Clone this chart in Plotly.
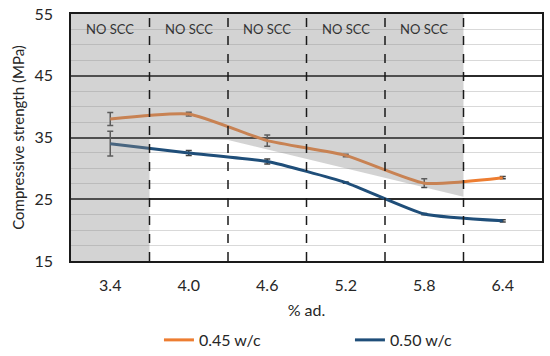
import plotly.graph_objects as go

categories = ["3.4", "4.0", "4.6", "5.2", "5.8", "6.4"]
w045 = [38.0, 38.8, 34.5, 32.1, 27.6, 28.5]
w045_err = [1.05, 0.3, 0.9, 0.2, 0.7, 0.2]
w050 = [34.0, 32.5, 31.1, 27.7, 22.6, 21.5]
w050_err = [2.0, 0.4, 0.4, 0.1, 0.1, 0.2]
zone_labels = ["NO SCC", "NO SCC", "NO SCC", "NO SCC", "NO SCC"]
# outline of the "NO SCC" shaded zone (category index, strength)
zone_x = [-0.5, 4.5, 4.5, 1.5, 0.5, 0.5, -0.5]
zone_y = [55, 55, 25.4, 34.6, 34.8, 15, 15]

xs = list(range(len(categories)))
FONT = "Lato, Open Sans, sans-serif"

fig = go.Figure()
fig.add_trace(go.Scatter(
    x=xs, y=w045, name="0.45 w/c", mode="lines",
    line=dict(color="#ED7D31", width=3, shape="spline", smoothing=0.5),
    error_y=dict(type="data", array=w045_err, color="#404040", thickness=1.5, width=3),
))
fig.add_trace(go.Scatter(
    x=xs, y=w050, name="0.50 w/c", mode="lines",
    line=dict(color="#1F4E79", width=3, shape="spline", smoothing=0.5),
    error_y=dict(type="data", array=w050_err, color="#404040", thickness=1.5, width=3),
))
fig.add_trace(go.Scatter(
    x=zone_x, y=zone_y, mode="lines", fill="toself",
    fillcolor="rgba(140,140,140,0.38)", line=dict(width=0),
    showlegend=False, hoverinfo="skip",
))

for b in [0.5, 1.5, 2.5, 3.5, 4.5]:
    fig.add_shape(type="line", x0=b, x1=b, y0=15, y1=55, xref="x", yref="y",
                  line=dict(color="#1a1a1a", width=1.5, dash="dash"), layer="above")

for i, t in enumerate(zone_labels):
    fig.add_annotation(x=i, y=52.6, text=t, showarrow=False,
                       font=dict(family=FONT, size=13, color="#333333"))

fig.update_layout(
    width=550, height=356,
    margin=dict(l=71, r=8, t=14, b=95, autoexpand=False),
    paper_bgcolor="white", plot_bgcolor="white",
    font=dict(family=FONT, size=15, color="#262626"),
    showlegend=True,
    legend=dict(orientation="h", x=0.289, xref="container", xanchor="left",
                y=0.045, yref="container", yanchor="middle",
                entrywidth=146, entrywidthmode="pixels",
                font=dict(family=FONT, size=16, color="#262626"),
                itemwidth=30, tracegroupgap=0),
)
fig.update_xaxes(
    range=[-0.5, 5.5], tickvals=xs, ticktext=categories,
    showgrid=False, zeroline=False, automargin=False,
    showline=True, linecolor="#1a1a1a", linewidth=1.5, mirror=True,
    ticks="", ticklabelstandoff=9,
    tickfont=dict(family=FONT, size=16, color="#262626"),
    title=dict(text="% ad.", font=dict(family=FONT, size=16, color="#262626"), standoff=12),
)
fig.update_yaxes(
    range=[15, 55], tick0=15, dtick=10, automargin=False,
    showgrid=True, gridcolor="#2b2b2b", gridwidth=1.5,
    minor=dict(dtick=2.5, showgrid=True, gridcolor="#D9D9D9", gridwidth=1),
    zeroline=False,
    showline=True, linecolor="#1a1a1a", linewidth=1.5, mirror=True,
    ticks="", ticklabelstandoff=13,
    tickfont=dict(family=FONT, size=16, color="#262626"),
    title=dict(text="Compressive strength (MPa)", font=dict(family=FONT, size=15, color="#262626"), standoff=6),
)

fig.write_html("out.html", config={"displayModeBar": False},
               post_script="document.body.style.margin='0';")
